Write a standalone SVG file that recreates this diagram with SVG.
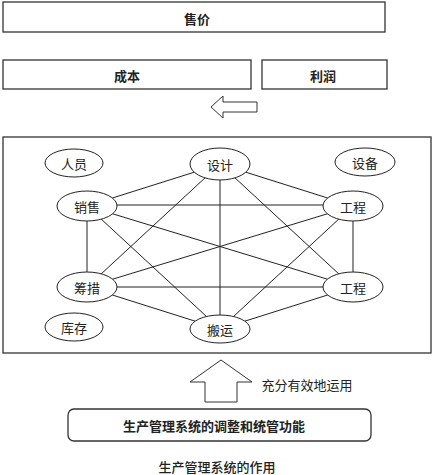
<svg xmlns="http://www.w3.org/2000/svg" width="435" height="475" viewBox="0 0 435 475">
<style>
.box{fill:#fff;stroke:#333;stroke-width:1.3}
.nd{fill:#fff;stroke:#222;stroke-width:1}
.ln{stroke:#222;stroke-width:1;fill:none}
.arr{fill:#fff;stroke:#333;stroke-width:1}
text{font-family:"Noto Sans CJK SC","Noto Sans",sans-serif;fill:#222;text-anchor:middle;dominant-baseline:central}
.b{font-size:13px;font-weight:bold}
.n{font-size:13px}
</style>
<rect width="435" height="475" fill="#fff"/>
<g id="price"><rect class="box" x="3" y="2" width="382" height="30"/><text class="b" x="197" y="18">售价</text></g>
<g id="cost"><rect class="box" x="3" y="60" width="248" height="29"/><text class="b" x="127" y="75">成本</text></g>
<g id="profit"><rect class="box" x="262" y="60" width="125" height="29"/><text class="b" x="323" y="75">利润</text></g>
<g id="arrow-left"><polygon class="arr" points="211,107 223,96 223,102 257,102 257,112 223,112 223,118"/></g>
<g id="frame"><rect class="box" x="3" y="137" width="428" height="216"/></g>
<g id="connectors">
<line class="ln" x1="194.2" y1="172.2" x2="112.4" y2="198"/>
<line class="ln" x1="245.8" y1="172.2" x2="327.6" y2="198"/>
<line class="ln" x1="220" y1="180" x2="220" y2="315"/>
<line class="ln" x1="205" y1="177.9" x2="101.3" y2="273.8"/>
<line class="ln" x1="235" y1="177.9" x2="338.7" y2="273.8"/>
<line class="ln" x1="117" y1="205" x2="323" y2="205"/>
<line class="ln" x1="87" y1="221" x2="87" y2="272"/>
<line class="ln" x1="112.6" y1="213.8" x2="327.4" y2="279.2"/>
<line class="ln" x1="101.3" y1="219.2" x2="206.5" y2="316.5"/>
<line class="ln" x1="327.4" y1="213.8" x2="112.6" y2="279.2"/>
<line class="ln" x1="353" y1="221" x2="353" y2="272"/>
<line class="ln" x1="338.7" y1="219.2" x2="233.5" y2="316.5"/>
<line class="ln" x1="117" y1="287" x2="323" y2="287"/>
<line class="ln" x1="112.4" y1="295" x2="195.2" y2="321.2"/>
<line class="ln" x1="327.6" y1="295" x2="244.8" y2="321.2"/>
</g>
<g id="personnel"><ellipse class="nd" cx="74" cy="163" rx="29" ry="14"/><text class="n" x="74" y="163">人员</text></g>
<g id="design"><ellipse class="nd" cx="220" cy="164" rx="30" ry="16"/><text class="n" x="220" y="164">设计</text></g>
<g id="equipment"><ellipse class="nd" cx="365" cy="162" rx="30" ry="14"/><text class="n" x="365" y="162">设备</text></g>
<g id="sales"><ellipse class="nd" cx="87" cy="206" rx="30" ry="15"/><text class="n" x="87" y="206">销售</text></g>
<g id="engineering1"><ellipse class="nd" cx="353" cy="206" rx="30" ry="15"/><text class="n" x="353" y="206">工程</text></g>
<g id="funding"><ellipse class="nd" cx="87" cy="287" rx="30" ry="15"/><text class="n" x="87" y="287">筹措</text></g>
<g id="engineering2"><ellipse class="nd" cx="353" cy="287" rx="30" ry="15"/><text class="n" x="353" y="287">工程</text></g>
<g id="inventory"><ellipse class="nd" cx="74" cy="327" rx="29" ry="14"/><text class="n" x="74" y="327">库存</text></g>
<g id="transport"><ellipse class="nd" cx="220" cy="329" rx="30" ry="14"/><text class="n" x="220" y="329">搬运</text></g>
<g id="arrow-up"><polygon class="arr" points="221,360 252,382 237,382 237,402 205,402 205,382 190,382"/><text class="n" x="307" y="384">充分有效地运用</text></g>
<g id="function"><rect class="box" x="68" y="409" width="303" height="32" rx="6"/><text class="b" x="214" y="425">生产管理系统的调整和统管功能</text></g>
<g id="caption"><text class="n" x="217" y="466" style="font-weight:500">生产管理系统的作用</text></g>
</svg>
